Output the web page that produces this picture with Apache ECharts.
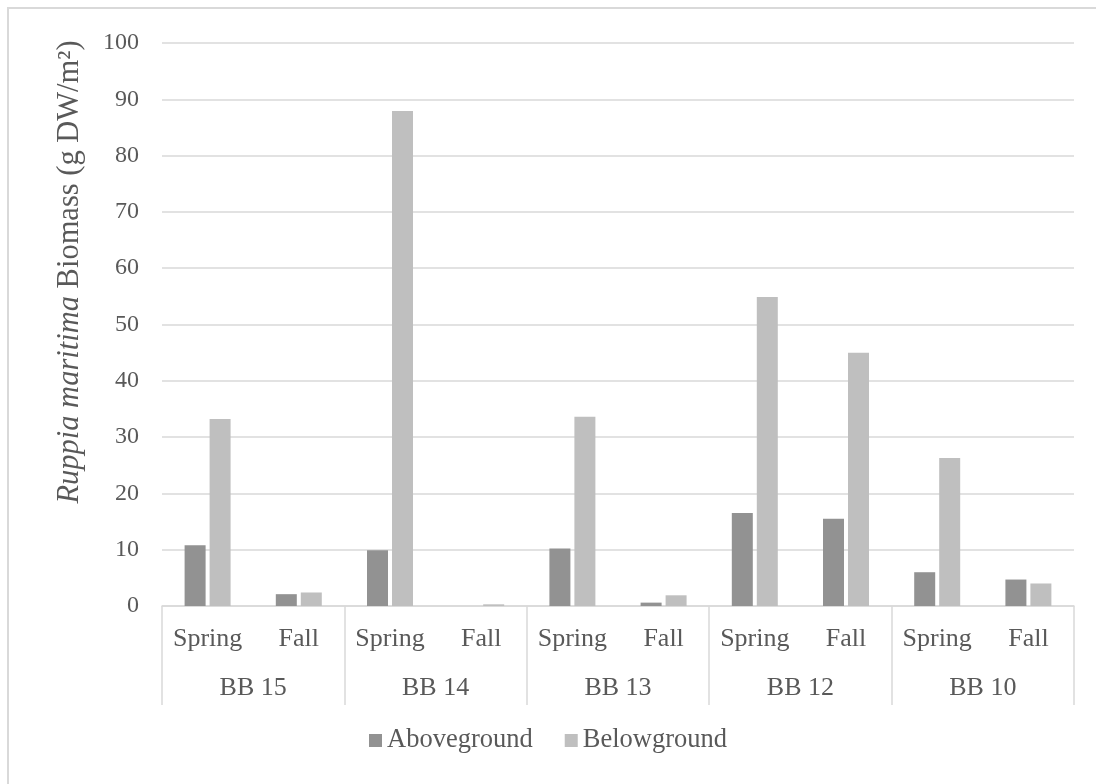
<!DOCTYPE html>
<html>
<head>
<meta charset="utf-8">
<script src="https://cdn.jsdelivr.net/npm/echarts@6/dist/echarts.min.js"></script>
<style>
html,body{margin:0;padding:0;background:#fff;}
#chart{width:1096px;height:784px;}
</style>
</head>
<body>
<div id="chart"></div>
<script>
const seasons = ['Spring','Fall','Spring','Fall','Spring','Fall','Spring','Fall','Spring','Fall'];
const sites = ['BB 15','BB 14','BB 13','BB 12','BB 10'];
const aboveground = [10.8, 2.1, 9.9, 0, 10.2, 0.6, 16.5, 15.5, 6.0, 4.7];
const belowground = [33.2, 2.4, 87.9, 0.3, 33.6, 1.9, 54.9, 45.0, 26.3, 4.0];
const yTicks = {min: 0, max: 100, interval: 10};

const FONT = 'Liberation Serif';
const TXT = '#595959';
const GRID = '#d9d9d9';

const chart = echarts.init(document.getElementById('chart'), null, {renderer: 'canvas'});
chart.setOption({
  animation: false,
  backgroundColor: '#fff',
  color: ['#929292', '#bfbfbf'],
  grid: {left: 162, right: 22, top: 43, bottom: 178, containLabel: false},
  legend: {
    bottom: 25, left: 'center',
    itemWidth: 13, itemHeight: 13, itemGap: 32,
    icon: 'rect',
    textStyle: {fontFamily: FONT, fontSize: 26.5, color: TXT},
    data: ['Aboveground', 'Belowground']
  },
  xAxis: [
    {
      type: 'category', data: seasons, position: 'bottom',
      axisLine: {show: true, lineStyle: {color: GRID, width: 1.5}},
      axisTick: {show: false},
      axisLabel: {fontFamily: FONT, fontSize: 26, color: TXT, margin: 20, interval: 0}
    },
    {
      type: 'category', data: sites, position: 'bottom',
      axisLine: {show: false},
      axisTick: {show: true, length: 99, interval: 0, lineStyle: {color: GRID, width: 1.5}},
      axisLabel: {fontFamily: FONT, fontSize: 26, color: TXT, margin: 69, interval: 0}
    }
  ],
  yAxis: {
    type: 'value', min: yTicks.min, max: yTicks.max, interval: yTicks.interval,
    axisLine: {show: false}, axisTick: {show: false},
    splitLine: {lineStyle: {color: GRID, width: 1.5}},
    axisLabel: {fontFamily: FONT, fontSize: 24, color: TXT, margin: 23}
  },
  series: [
    {name: 'Aboveground', type: 'bar', xAxisIndex: 0, data: aboveground, barWidth: 21, barGap: '19%'},
    {name: 'Belowground', type: 'bar', xAxisIndex: 0, data: belowground, barWidth: 21, barGap: '19%'}
  ],
  graphic: [
    {type: 'rect', shape: {x: 8, y: 8, width: 1100, height: 800}, style: {fill: 'none', stroke: GRID, lineWidth: 2}, silent: true},
    {
      type: 'text', x: 70, y: 272, rotation: Math.PI / 2,
      style: {
        text: '{i|Ruppia maritima} Biomass (g DW/m²)',
        fontFamily: FONT, fontSize: 30.5, fill: TXT, align: 'center', verticalAlign: 'middle',
        rich: {i: {fontFamily: FONT, fontSize: 30.5, fontStyle: 'italic', fill: TXT}}
      }
    }
  ]
});
</script>
</body>
</html>
